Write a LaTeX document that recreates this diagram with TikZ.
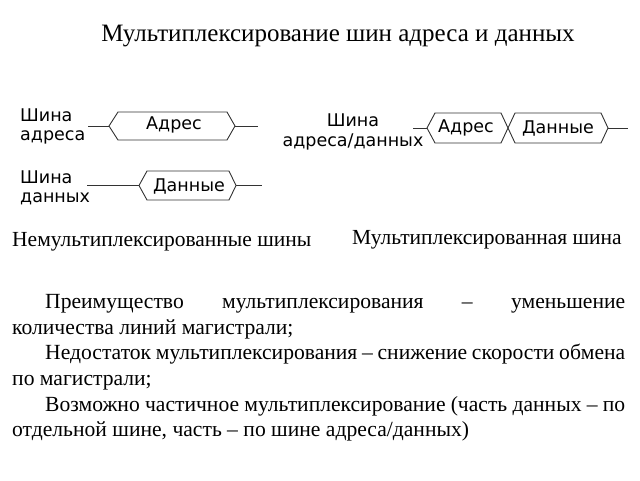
\documentclass[tikz,border=0pt]{standalone}
\usepackage{fontspec}
\setmainfont{Liberation Serif}
\newfontfamily\diagfont{DejaVu Sans}
\begin{document}
\begin{tikzpicture}[x=1pt,y=-1pt,
  lbl/.style={inner sep=0pt, font=\diagfont\fontsize{17.5}{19}\selectfont},
  hexline/.style={line width=0.9pt, draw=black!80},
  captxt/.style={inner sep=0pt, font=\fontsize{21.5}{24}\selectfont}]
\useasboundingbox (0,0) rectangle (640,480);
% title
\node[inner sep=0pt, anchor=base, font=\fontsize{25}{27}\selectfont] (title) at (338,41.5) {Мультиплексирование шин адреса и данных};
% left labels
\node[lbl, anchor=west] (sha) at (20,115) {Шина};
\node[lbl, anchor=west] (adr) at (20,137) {адреса};
\node[lbl, anchor=west] (shd) at (20,177) {Шина};
\node[lbl, anchor=west] (dan) at (20,199) {данных};
% address hexagon
\coordinate (a0) at (88,126);
\coordinate (a1) at (109,126);
\coordinate (a2) at (235,126);
\coordinate (a3) at (258,126);
\draw[hexline] (a0) -- (a1);
\draw[hexline] (a1) -- (118,112) -- (227,112) -- (a2) -- (227,140) -- (118,140) -- cycle;
\draw[hexline] (a2) -- (a3);
\node[lbl] (hadr) at (174,125) {Адрес};
% data hexagon
\coordinate (d0) at (87,185.5);
\coordinate (d1) at (139,185.5);
\coordinate (d2) at (236,185.5);
\coordinate (d3) at (262,185.5);
\draw[hexline] (d0) -- (d1);
\draw[hexline] (d1) -- (147,171) -- (229,171) -- (d2) -- (229,200) -- (147,200) -- cycle;
\draw[hexline] (d2) -- (d3);
\node[lbl] (hdan) at (189,186) {Данные};
% right labels
\node[lbl] (shm) at (353,120) {Шина};
\node[lbl] (adm) at (353,142) {адреса/данных};
% multiplexed hexagons
\coordinate (m0) at (413,128);
\coordinate (m1) at (427,128);
\coordinate (mx) at (508,128);
\coordinate (m2) at (608,128);
\coordinate (m3) at (628,128);
\draw[hexline] (m0) -- (m1);
\draw[hexline] (m1) -- (435,113) -- (501,113) -- (mx) -- (501,143) -- (435,143) -- cycle;
\draw[hexline] (mx) -- (515,113) -- (601,113) -- (m2) -- (601,143) -- (515,143) -- cycle;
\draw[hexline] (m2) -- (m3);
\node[lbl] (madr) at (466,128) {Адрес};
\node[lbl] (mdan) at (558,128) {Данные};
% captions
\node[captxt, anchor=base west] (cap1) at (12,246.5) {Немультиплексированные шины};
\node[captxt, anchor=base west] (cap2) at (352,244) {Мультиплексированная шина};
% paragraph
\node[inner sep=0pt, anchor=base west] (para) at (12,308.3) {\parbox[t]{613pt}{\fontsize{21.6}{25.7}\selectfont\setlength{\parindent}{0pt}\setlength{\parskip}{0pt}%
\hspace*{33pt}Преимущество мультиплексирования – уменьшение\linebreak количества линий магистрали;\par
\hspace*{33pt}Недостаток мультиплексирования – снижение скорости обмена\linebreak по магистрали;\par
\hspace*{33pt}Возможно частичное мультиплексирование (часть данных – по\linebreak отдельной шине, часть – по шине адреса/данных)}};
\end{tikzpicture}
\end{document}
